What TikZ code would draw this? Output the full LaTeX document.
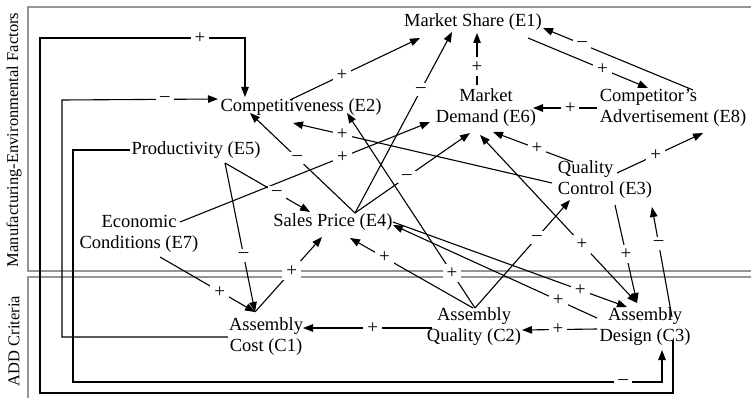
\documentclass[tikz,border=0pt]{standalone}
\usepackage{fontspec}
\setmainfont{Liberation Serif}
\usetikzlibrary{arrows.meta}
\definecolor{FrameGray}{RGB}{150,150,150}

\begin{document}
\begin{tikzpicture}[
x=1pt,y=-1pt,
factor/.style={
inner sep=1pt,
align=center,
font=\fontsize{18.5}{21}\selectfont
},
link/.style={line width=1.1pt,-{Triangle[length=10pt,width=7.5pt]}},
twoway/.style={line width=1.1pt,{Triangle[length=10pt,width=7.5pt]}-{Triangle[length=10pt,width=7.5pt]}},
sign/.style={fill=white,inner sep=4pt,font=\fontsize{19}{19}\selectfont},
frame/.style={draw=FrameGray,line width=1.2pt}
]
\useasboundingbox (0,0) rectangle (751,398);

\draw[frame] (28,7) rectangle (760,271);
\draw[frame] (28,277) rectangle (760,410);

\node[factor,rotate=90,font=\fontsize{16.5}{18}\selectfont] (envlbl) at (14,140) {Manufacturing-Environmental Factors};
\node[factor,rotate=90,font=\fontsize{16.5}{18}\selectfont] (addlbl) at (14,341) {ADD Criteria};

\node[factor] (e1) at (473,22) {Market Share (E1)};
\node[factor] (e2) at (301,107) {Competitiveness (E2)};
\node[factor] (e6) at (486,108) {Market\\Demand (E6)};
\node[factor,align=left] (e8) at (673,108) {Competitor’s\\Advertisement (E8)};
\node[factor] (e5) at (196,150) {Productivity (E5)};
\node[factor,align=left] (e3) at (605,180) {Quality\\Control (E3)};
\node[factor] (e7) at (139,234) {Economic\\Conditions (E7)};
\node[factor] (e4) at (333,222) {Sales Price (E4)};
\node[factor] (c1) at (266,337) {Assembly\\Cost (C1)};
\node[factor] (c2) at (474,327) {Assembly\\Quality (C2)};
\node[factor] (c3) at (645,327) {Assembly\\Design (C3)};

\draw[link] ([shift={(-11,-7)}]e2.center) -- node[sign,pos=0.4]{+} ([shift={(-53,16)}]e1.center);
\draw[link] ([shift={(22,-9)}]e4.center) -- node[sign,pos=0.68]{–} ([shift={(-21,10)}]e1.center);
\draw[link] ([shift={(-9,-23)}]e6.center) -- node[sign,pos=0.35]{+} ([shift={(4,11)}]e1.center);
\draw[link] ([shift={(55,16)}]e1.center) -- node[sign,pos=0.62]{+} ([shift={(-25,-20)}]e8.center);
\draw[link] ([shift={(20,-18)}]e8.center) -- node[sign,pos=0.74]{–} ([shift={(70,6)}]e1.center);
\draw[link] ([shift={(-76,0)}]e8.center) -- node[sign,pos=0.42]{+} ([shift={(47,0)}]e6.center);
\draw[link] ([shift={(12,-7)}]e3.center) -- node[sign,pos=0.45]{+} ([shift={(30,25)}]e8.center);
\draw[link] ([shift={(-32,-18)}]e3.center) -- node[sign,pos=0.45]{+} ([shift={(7,24)}]e6.center);
\draw[link] ([shift={(-53,3)}]e3.center) -- node[sign,pos=0.81]{+} ([shift={(-8,16)}]e2.center);
\draw[link] ([shift={(22,-9)}]e4.center) -- node[sign,pos=0.55]{–} ([shift={(-51,6)}]e2.center);
\draw[link] ([shift={(41,-12)}]e7.center) -- node[sign,pos=0.65]{+} ([shift={(-56,14)}]e6.center);
\draw[link] ([shift={(22,-9)}]e4.center) -- node[sign,pos=0.45]{–} ([shift={(-16,25)}]e6.center);
\draw[twoway] ([shift={(-6,27)}]e6.center) -- node[sign,pos=0.65]{+} ([shift={(-8,-24)}]c3.center);
\draw[link] ([shift={(1,-19)}]c2.center) -- node[sign,pos=0.18]{+} ([shift={(46,6)}]e2.center);
\draw[link] ([shift={(1,-19)}]c2.center) -- node[sign,pos=0.65]{–} ([shift={(-35,20)}]e3.center);
\draw[link] ([shift={(-1,-19)}]c2.center) -- node[sign,pos=0.72]{+} ([shift={(17,16)}]e4.center);
\draw[link] ([shift={(-11,-25)}]c1.center) -- node[sign,pos=0.55]{+} ([shift={(-11,15)}]e4.center);
\draw[link] ([shift={(21,23)}]e7.center) -- node[sign,pos=0.63]{+} ([shift={(-11,-25)}]c1.center);
\draw[link] ([shift={(29,13)}]e5.center) -- node[sign,pos=0.62]{–} ([shift={(-11,-25)}]c1.center);
\draw[link] ([shift={(29,13)}]e5.center) -- node[sign,pos=0.61]{–} ([shift={(-23,-10)}]e4.center);
\draw[link] ([shift={(60,0)}]e4.center) -- node[sign,pos=0.8]{+} ([shift={(-18,-20)}]c3.center);
\draw[link] ([shift={(-48,-9)}]c3.center) -- node[sign,pos=0.19]{+} ([shift={(60,3)}]e4.center);
\draw[link] ([shift={(10,25)}]e3.center) -- node[sign,pos=0.5]{+} ([shift={(-8,-24)}]c3.center);
\draw[link] ([shift={(27,-10)}]c3.center) -- node[sign,pos=0.67]{–} ([shift={(47,27)}]e3.center);
\draw[link] ([shift={(-42,1)}]c2.center) -- node[sign,pos=0.46]{+} ([shift={(37,-9)}]c1.center);
\draw[link] ([shift={(-48,2)}]c3.center) -- node[sign,pos=0.52]{+} ([shift={(48,3)}]c2.center);

\draw[link] ([shift={(28,13)}]c3.center) |- (40,393) |- node[sign,pos=0.89]{+} (245,38) -- ([shift={(-56,-10)}]e2.center);
\draw[link] (c1.west) -| (62,100) -- node[sign,pos=0.66]{–} ([shift={(-83,-8)}]e2.center);
\draw[link] (e5.west) -| (73,382) -| node[sign,pos=0.467]{–} ([shift={(17,23)}]c3.center);

\end{tikzpicture}
\end{document}
